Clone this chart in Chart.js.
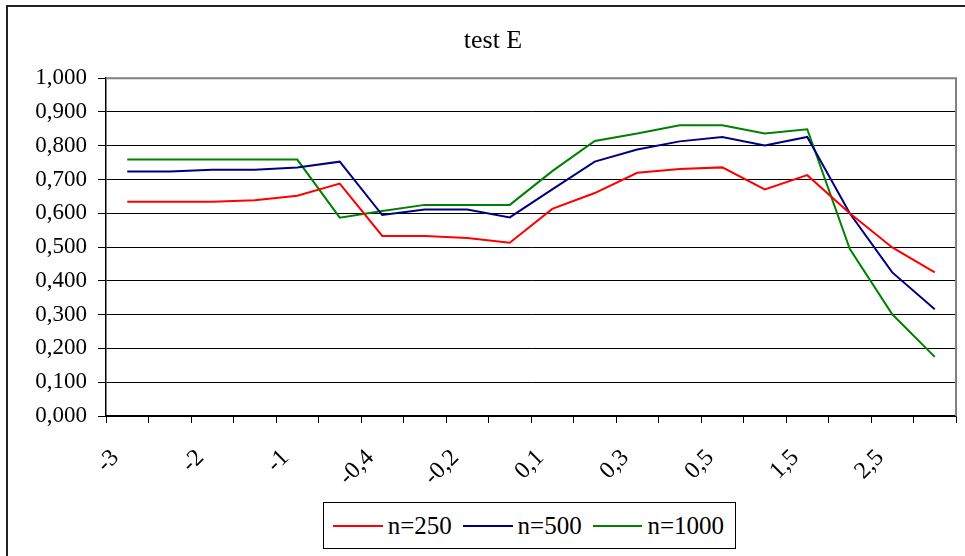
<!DOCTYPE html>
<html>
<head>
<meta charset="utf-8">
<script src="https://cdn.jsdelivr.net/npm/chart.js@4.4.1/dist/chart.umd.min.js"></script>
<style>
  html, body { margin: 0; padding: 0; background: #fff; width: 965px; height: 556px; overflow: hidden; }
  #frame { position: absolute; left: 6px; top: 5px; width: 990px; height: 590px; border: 2px solid #222; }
  #wrap { position: absolute; left: 8px; top: 7px; width: 970px; height: 560px; }
  #legend {
    position: absolute; left: 323px; top: 502px; width: 413px; height: 47px; box-sizing: border-box;
    border: 1px solid #000; background: #fff; display: flex; align-items: center; padding-left: 9px;
    font-family: 'Liberation Serif', 'Times New Roman', serif; font-size: 25px; color: #000;
  }
  .lg-line { display: inline-block; width: 50px; height: 2px; }
  .lg-text { margin: 0 11px 0 5px; }
</style>
</head>
<body>
<div id="frame"></div>
<div id="wrap"><canvas id="chart" width="970" height="560"></canvas></div>
<div id="legend"></div>

<script>
// ─── DATA ─────────────────────────────────────────────────
const categories = ['-3', '-2,5', '-2', '-1,5', '-1', '-0,5', '-0,4', '-0,3', '-0,2', '-0,1',
                    '0,1', '0,2', '0,3', '0,4', '0,5', '1', '1,5', '2', '2,5', '3'];

const n250  = [0.634, 0.634, 0.634, 0.639, 0.652, 0.688, 0.533, 0.533, 0.527, 0.513,
               0.613, 0.660, 0.720, 0.731, 0.736, 0.671, 0.713, 0.600, 0.499, 0.425];
const n500  = [0.724, 0.724, 0.729, 0.729, 0.736, 0.753, 0.595, 0.611, 0.611, 0.588,
               0.671, 0.753, 0.789, 0.813, 0.826, 0.801, 0.826, 0.600, 0.425, 0.316];
const n1000 = [0.759, 0.759, 0.759, 0.759, 0.759, 0.587, 0.607, 0.625, 0.625, 0.625,
               0.725, 0.814, 0.836, 0.861, 0.861, 0.836, 0.849, 0.495, 0.301, 0.175];

const yTickLabels = ['0,000', '0,100', '0,200', '0,300', '0,400', '0,500',
                     '0,600', '0,700', '0,800', '0,900', '1,000'];

const seriesNames  = ['n=250', 'n=500', 'n=1000'];
const seriesColors = ['#ff0000', '#000080', '#008000'];

// ─── CHART ────────────────────────────────────────────────
const FONT = "'Liberation Serif', 'Times New Roman', serif";

// gray top/right edge of the plot area
const plotFrame = {
  id: 'plotFrame',
  beforeDatasetsDraw(chart) {
    const { ctx, chartArea: a } = chart;
    ctx.save();
    ctx.strokeStyle = '#808080';
    ctx.lineWidth = 2;
    ctx.beginPath();
    ctx.moveTo(a.left, a.top);
    ctx.lineTo(a.right, a.top);
    ctx.lineTo(a.right, a.bottom);
    ctx.stroke();
    ctx.restore();
  }
};

const seriesData = [n250, n500, n1000];

const chart = new Chart(document.getElementById('chart'), {
  type: 'line',
  data: {
    labels: categories,
    datasets: seriesData.map((d, i) => ({
      label: seriesNames[i],
      data: d,
      borderColor: seriesColors[i],
      backgroundColor: seriesColors[i],
      borderWidth: 2,
      pointRadius: 0,
      tension: 0,
      fill: false,
    })),
  },
  options: {
    responsive: false,
    animation: false,
    devicePixelRatio: 1,
    layout: { padding: { left: 22, right: 22, top: 0, bottom: 81 } },
    plugins: {
      legend: { display: false },
      tooltip: { enabled: false },
      title: {
        display: true,
        text: 'test E',
        color: '#000',
        font: { family: FONT, size: 26, weight: 'normal' },
        padding: { top: 19, bottom: 21 },
      },
    },
    scales: {
      x: {
        type: 'category',
        offset: true,
        afterFit: s => { s.height = 70; },
        grid: { offset: true, drawOnChartArea: false, drawTicks: true, tickLength: 7, color: '#000' },
        border: { color: '#000', width: 1.5 },
        ticks: {
          autoSkip: false,
          minRotation: 45,
          maxRotation: 45,
          padding: 21,
          labelOffset: -12,
          color: '#000',
          font: { family: FONT, size: 24 },
          callback: (v, i) => (i % 2 === 0 ? categories[i] : ''),
        },
      },
      y: {
        min: 0,
        max: 1,
        afterFit: s => { s.width = 76; },
        grid: {
          color: c => (c.tick && c.tick.value === 1 ? '#808080' : '#000'),
          tickColor: '#000',
          tickLength: 8,
          drawTicks: true,
        },
        border: { color: '#000', width: 1.5 },
        ticks: {
          stepSize: 0.1,
          padding: 11,
          color: '#000',
          font: { family: FONT, size: 23 },
          callback: (v, i) => yTickLabels[i],
        },
      },
    },
  },
  plugins: [plotFrame],
});

// ─── LEGEND ───────────────────────────────────────────────
document.getElementById('legend').innerHTML = chart.data.datasets.map(ds => `
  <span class="lg-line" style="background:${ds.borderColor}"></span><span class="lg-text">${ds.label}</span>
`).join('');
</script>
</body>
</html>
